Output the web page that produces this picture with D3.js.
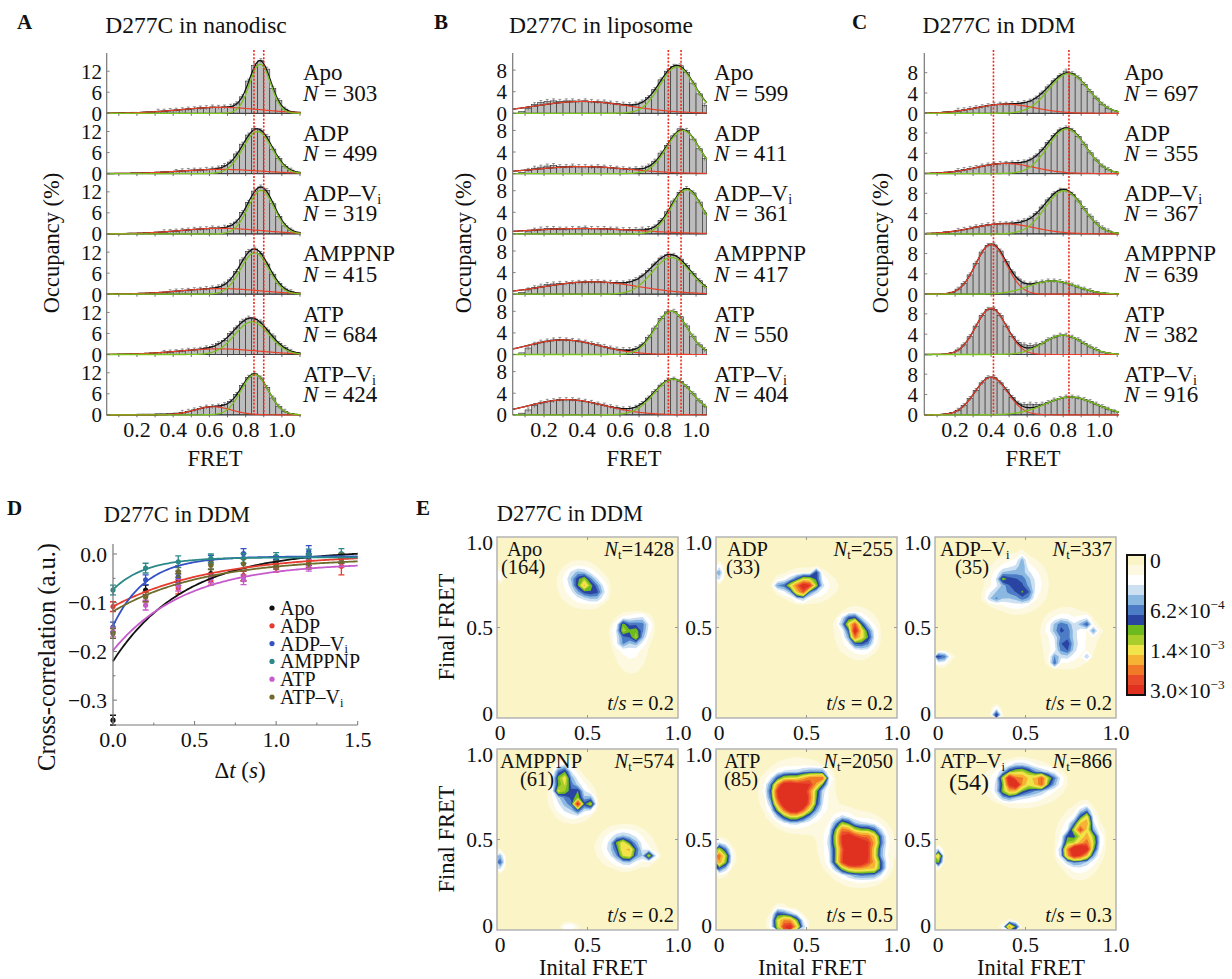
<!DOCTYPE html>
<html>
<head>
<meta charset="utf-8">
<script src="https://cdn.jsdelivr.net/npm/d3@7"></script>
<style>
  body { margin: 0; background: #fff; }
  svg { display: block; }
  svg text { white-space: pre; }
</style>
</head>
<body>
<script>
// ---------- data ----------
const conditions = ["Apo", "ADP", "ADP–Vi", "AMPPNP", "ATP", "ATP–Vi"];
const binWidth = 1 / 30;
const fretTicks = [0.2, 0.4, 0.6, 0.8, 1.0];

// A - nanodisc
const nanodiscN = [303, 499, 319, 415, 684, 424];
const nanodiscBars = [
  [0,0,0.1,0.2,0.1,0.3,0.2,0.4,0.4,0.6,0.6,0.8,0.9,1.0,1.2,1.3,1.5,1.6,1.8,1.7,1.8,2.0,2.7,4.7,9.2,13.6,15.0,12.6,7.1,3.6,1.2,0.5,0.2],
  [0,0,0,0.1,0.1,0.2,0.2,0.3,0.3,0.4,0.5,0.5,0.6,0.8,0.9,1.0,1.0,1.2,1.3,1.6,2.3,3.3,5.6,8.4,11.0,12.8,12.2,10.6,7.0,4.3,2.0,1.0,0.4],
  [0,0,0.1,0.1,0.2,0.2,0.2,0.3,0.4,0.5,0.6,0.7,0.8,1.0,1.1,1.3,1.4,1.5,1.7,1.6,1.9,2.4,3.4,6.1,9.0,12.2,13.4,12.4,8.6,5.0,2.3,1.1,0.5],
  [0,0,0.1,0.1,0.1,0.2,0.3,0.3,0.4,0.5,0.5,0.7,0.9,1.0,1.1,1.3,1.4,1.6,1.8,2.1,2.9,4.1,6.5,9.8,12.2,12.9,11.6,8.6,5.7,3.0,1.5,0.7,0.3],
  [0,0,0.1,0.1,0.2,0.2,0.3,0.3,0.4,0.5,0.6,0.7,0.8,1.0,1.2,1.3,1.5,1.9,2.3,3.1,4.0,6.0,7.6,9.5,10.4,10.1,9.3,7.0,5.3,3.1,2.0,0.9,0.5],
  [0,0,0,0,0,0.1,0.2,0.2,0.2,0.3,0.3,0.4,0.5,0.7,1.0,1.4,1.8,2.2,2.3,2.5,2.9,3.8,5.8,8.4,10.7,11.7,10.5,7.8,4.8,2.4,1.0,0.4,0.1]
];
// gaussian fits [amplitude, centre, sigma]
const nanodiscLow = [[1.7,0.66,0.22],[1.2,0.66,0.22],[1.6,0.66,0.22],[1.6,0.66,0.22],[1.6,0.65,0.22],[2.3,0.62,0.1]];
const nanodiscHigh = [[14,0.88,0.058],[12,0.865,0.08],[12.4,0.885,0.072],[11.8,0.85,0.078],[9.3,0.835,0.095],[11.5,0.85,0.075]];
const nanodiscMarks = [0.846, 0.90];

// B - liposome
const liposomeN = [599, 411, 361, 417, 550, 404];
const liposomeBars = [
  [0,0,0.3,0.9,1.6,2.0,2.2,2.3,2.2,2.3,2.3,2.2,2.3,2.2,2.1,2.1,1.9,1.8,1.7,1.6,1.7,2.1,2.9,4.4,6.2,7.8,8.7,8.8,7.6,5.6,3.6,1.5],
  [0,0,0.2,0.6,1.0,1.2,1.4,1.5,1.3,1.3,1.4,1.3,1.3,1.2,1.3,1.2,1.1,1.0,0.9,0.8,0.9,1.0,1.4,2.3,3.8,5.2,7.0,8.3,8.0,6.4,4.6,2.8],
  [0,0,0.1,0.4,0.7,0.9,1.0,1.0,0.9,0.9,1.0,1.0,1.1,1.0,1.0,1.0,0.9,0.9,0.8,0.8,0.8,0.9,1.0,1.3,2.5,4.1,6.1,7.7,8.4,7.6,5.9,3.9],
  [0,0,0.3,0.8,1.2,1.5,1.8,1.9,2.0,2.0,2.1,2.2,2.2,2.3,2.3,2.2,2.2,2.1,2.1,2.3,2.7,3.4,4.4,5.6,6.7,7.3,7.2,6.5,5.3,3.8,2.5,1.4],
  [0,0,0.3,1.2,1.9,2.3,2.5,2.7,2.8,2.7,2.6,2.5,2.3,2.0,1.8,1.5,1.2,1.0,0.9,0.9,1.1,1.8,3.2,4.9,6.7,7.9,8.0,7.0,5.3,3.4,1.8,0.9],
  [0,0,0.3,0.9,1.7,2.2,2.5,2.6,2.8,2.8,2.8,2.7,2.5,2.3,2.0,1.8,1.5,1.3,1.1,1.2,1.4,2.1,3.1,4.3,5.5,6.4,6.6,6.2,5.2,3.9,2.6,1.6]
];
const liposomeLow = [[2.2,0.4,0.25],[1.3,0.4,0.25],[1.0,0.4,0.3],[2.3,0.45,0.25],[2.7,0.3,0.19],[2.8,0.32,0.2]];
const liposomeHigh = [[8.6,0.9,0.09],[8.0,0.93,0.085],[8.2,0.95,0.08],[6.8,0.87,0.1],[8.0,0.87,0.085],[6.6,0.88,0.1]];
const liposomeMarks = [0.854, 0.921];

// C - DDM
const ddmN = [697, 355, 367, 639, 382, 916];
const ddmBars = [
  [0,0,0.1,0.2,0.3,0.4,0.6,0.7,0.9,1.1,1.3,1.5,1.7,1.8,1.8,1.9,1.9,2.1,2.4,3.0,4.0,5.2,6.4,7.4,8.3,7.8,7.0,5.7,4.3,3.0,1.8,1.0,0.5],
  [0,0,0.1,0.2,0.3,0.4,0.6,0.8,1.0,1.2,1.5,1.7,1.9,2.0,2.0,2.1,2.2,2.3,2.7,3.5,4.7,6.1,7.5,8.6,9.0,8.5,7.3,5.8,4.1,2.7,1.5,0.8,0.4],
  [0,0,0.1,0.2,0.4,0.5,0.7,0.9,1.1,1.4,1.6,1.8,1.9,2.0,2.0,2.1,2.3,2.6,3.1,4.0,5.3,6.7,7.9,8.6,8.5,7.8,6.5,5.0,3.5,2.2,1.2,0.6,0.3],
  [0,0,0,0,0.1,0.4,1.0,2.1,3.8,6.1,8.3,9.6,9.7,8.5,6.4,4.4,3.0,2.2,2.0,2.2,2.4,2.6,2.6,2.5,2.2,1.8,1.4,1.0,0.7,0.45,0.3,0.15,0.1],
  [0,0,0,0,0.1,0.35,0.9,1.9,3.5,5.6,7.7,8.9,8.9,7.7,5.6,3.6,2.4,1.9,1.8,1.9,2.2,2.9,3.4,3.8,3.8,3.4,2.9,2.2,1.5,1.0,0.5,0.3,0.1],
  [0,0,0,0,0.2,0.4,0.9,1.8,3.2,4.8,6.3,7.3,7.3,6.3,5.0,3.4,2.3,2.0,2.1,2.0,2.1,2.4,2.9,3.2,3.5,3.5,3.3,3.0,2.6,2.1,1.6,1.1,0.6]
];
const ddmLow = [[1.8,0.48,0.16],[2.0,0.48,0.16],[2.0,0.47,0.17],[9.8,0.40,0.085],[9.1,0.40,0.085],[7.4,0.40,0.09]];
const ddmHigh = [[7.8,0.83,0.11],[8.8,0.82,0.105],[8.5,0.805,0.105],[2.6,0.74,0.13],[3.8,0.80,0.11],[3.5,0.84,0.14]];
const ddmMarks = [0.413, 0.832];

// D - cross-correlation
const ccTimes = [0, 0.2, 0.4, 0.6, 0.8, 1.0, 1.2, 1.4];
const ccApo    = [-0.341, -0.074, -0.053, -0.040, -0.045, -0.019, -0.012, -0.016];
const ccADP    = [-0.108, -0.088, -0.070, -0.055, -0.045, -0.029, -0.016, -0.025];
const ccADPVi  = [-0.150, -0.053, -0.047, -0.012, 0.001, -0.012, 0.005, -0.009];
const ccAMPPNP = [-0.074, -0.029, -0.016, -0.009, -0.009, -0.005, -0.002, 0.001];
const ccATP    = [-0.160, -0.105, -0.064, -0.050, -0.053, -0.023, -0.023, -0.016];
const ccATPVi  = [-0.163, -0.088, -0.036, -0.023, -0.020, -0.023, -0.019, -0.009];
const ccErr    = [0.010, 0.010, 0.012, 0.009, 0.010, 0.008, 0.012, 0.010];
// exponential fits [a, tau, c] : a*exp(-t/tau)+c
const ccFits = [[-0.228,0.44,0.008],[-0.108,0.6,0],[-0.143,0.2,-0.005],[-0.066,0.2,-0.007],[-0.18,0.44,-0.018],[-0.11,0.55,-0.008]];
const ccColors = ["#111111", "#e63b2e", "#3552c4", "#2b8a88", "#c65ccc", "#6e6b2c"];

// E - transition density maps, hot spots [initial, final, peak (x10^-3), sx, sy]
const mapNames = ["Apo", "ADP", "ADP–Vi", "AMPPNP", "ATP", "ATP–Vi"];
const mapCounts = [164, 33, 35, 61, 85, 54];
const mapNt = [1428, 255, 337, 574, 2050, 866];
const mapTime = [0.2, 0.2, 0.2, 0.2, 0.5, 0.3];
const spotsApo = [[0.48,0.74,1.05,0.022,0.022],[0.50,0.72,0.7,0.05,0.04],[0.45,0.78,0.45,0.04,0.03],[0.55,0.69,0.45,0.03,0.03],
  [0.46,0.74,0.2,0.08,0.08],[0.70,0.50,1.05,0.018,0.022],[0.74,0.48,0.7,0.05,0.04],[0.77,0.45,0.75,0.02,0.025],
  [0.80,0.52,0.45,0.03,0.03],[0.69,0.42,0.45,0.02,0.02],[0.74,0.40,0.2,0.06,0.1],[0.0,0.79,0.45,0.015,0.03]];
const spotsADP = [[0.50,0.74,3.2,0.035,0.02],[0.47,0.69,2.6,0.02,0.015],[0.43,0.73,1.3,0.04,0.02],[0.56,0.79,1.8,0.012,0.012],
  [0.35,0.74,0.8,0.012,0.012],[0.50,0.73,0.4,0.09,0.05],[0.77,0.48,3.1,0.02,0.035],[0.74,0.53,1.3,0.03,0.02],
  [0.82,0.45,1.0,0.03,0.04],[0.78,0.47,0.3,0.07,0.08],[0.0,0.80,1.2,0.015,0.03]];
const spotsADPVi = [[0.45,0.73,0.7,0.06,0.06],[0.38,0.78,1.2,0.02,0.012],[0.50,0.68,1.2,0.015,0.015],[0.47,0.86,1.0,0.01,0.025],
  [0.33,0.67,0.6,0.03,0.02],[0.70,0.50,0.7,0.04,0.03],[0.72,0.40,0.8,0.03,0.04],[0.83,0.53,1.4,0.02,0.012],[0.88,0.47,1.2,0.015,0.01],
  [0.66,0.32,1.8,0.015,0.012],[0.83,0.35,1.0,0.01,0.01],[0.03,0.33,1.2,0.03,0.015],[0.34,0.0,1.2,0.015,0.03],
  [0.45,0.75,0.25,0.1,0.09],[0.74,0.44,0.25,0.09,0.1]];
const spotsAMPPNP = [[0.36,0.84,1.3,0.02,0.04],[0.35,0.77,1.2,0.015,0.015],[0.45,0.69,3.1,0.015,0.015],[0.44,0.75,1.5,0.015,0.012],
  [0.51,0.70,1.4,0.015,0.02],[0.42,0.72,0.7,0.06,0.06],[0.38,0.82,0.6,0.04,0.05],[0.68,0.49,2.0,0.012,0.012],
  [0.72,0.43,1.5,0.03,0.03],[0.70,0.46,0.7,0.06,0.05],[0.84,0.41,1.3,0.02,0.015],[0.86,0.32,0.8,0.008,0.008],
  [0.0,0.38,2.5,0.012,0.03],[0.40,0.0,1.5,0.03,0.01],[0.72,0.45,0.12,0.12,0.08]];
const spotsATP = [[0.40,0.78,3.5,0.05,0.04],[0.47,0.72,3.5,0.05,0.05],[0.42,0.68,2.5,0.04,0.04],[0.52,0.82,2.5,0.04,0.03],
  [0.58,0.84,2.2,0.02,0.02],[0.36,0.73,2.0,0.03,0.05],[0.45,0.75,0.25,0.12,0.12],
  [0.74,0.48,3.5,0.05,0.05],[0.80,0.40,3.5,0.05,0.05],[0.72,0.38,2.5,0.04,0.03],[0.85,0.50,2.0,0.04,0.04],
  [0.70,0.55,1.5,0.03,0.04],[0.88,0.35,1.2,0.03,0.03],[0.78,0.45,0.25,0.12,0.12],
  [0.02,0.40,2.6,0.03,0.04],[0.40,0.02,3.5,0.04,0.035],[0.35,0.07,1.0,0.02,0.03]];
const spotsATPVi = [[0.40,0.83,3.2,0.015,0.02],[0.44,0.80,2.5,0.02,0.02],[0.47,0.84,1.5,0.05,0.04],[0.58,0.82,2.6,0.02,0.02],
  [0.62,0.83,1.0,0.04,0.025],[0.40,0.76,1.2,0.03,0.02],[0.48,0.81,0.8,0.09,0.05],
  [0.76,0.43,3.5,0.03,0.025],[0.82,0.44,3.2,0.03,0.025],[0.79,0.56,2.8,0.015,0.02],[0.83,0.60,2.0,0.02,0.04],
  [0.85,0.50,1.5,0.03,0.03],[0.74,0.50,1.3,0.015,0.015],[0.80,0.48,0.8,0.06,0.09],
  [0.01,0.40,2.2,0.015,0.025],[0.42,0.0,3.5,0.02,0.02],[0.5,0.8,0.12,0.14,0.08]];
const mapSpots = [spotsApo, spotsADP, spotsADPVi, spotsAMPPNP, spotsATP, spotsATPVi];
// colour levels (lower bounds, x10^-3)
const mapLevels = [0, 0.06, 0.15, 0.3, 0.45, 0.62, 0.8, 1.0, 1.2, 1.4, 1.8, 2.2, 2.6, 3.0];
const mapColors = ["#fbf4c6","#fdf9e0","#ffffff","#cde0f2","#8ab8e1","#4d7cc7","#2a45a1","#6dba1f","#a9cd2a","#f1e34a","#f5b233","#f07a27","#e94b2a","#e0301f"];
const colorbarLabels = [0, 0.62, 1.4, 3.0];

// ---------- drawing ----------
const W = 1232, H = 979;
const svg = d3.select("body").append("svg")
  .attr("width", W).attr("height", H)
  .style("font-family", "'Liberation Serif', 'Times New Roman', serif")
  .attr("fill", "#111");

const gauss = (p, x) => p[0] * Math.exp(-((x - p[1]) ** 2) / (2 * p[2] * p[2]));

// writes a row of text pieces (italic / subscript / superscript) as separate text nodes
function runs(parent, x, y, pieces, size, anchor) {
  const g = parent.append("g");
  let cx = 0;
  pieces.forEach(p => {
    const fs = p.sub || p.sup ? size * 0.62 : size;
    const dy = p.sub ? size * 0.14 : p.sup ? -size * 0.38 : 0;
    const t = g.append("text").attr("x", cx).attr("y", dy).attr("font-size", fs).text(p.t);
    if (p.italic) t.attr("font-style", "italic");
    cx += t.node().getComputedTextLength();
  });
  const shift = anchor === "end" ? -cx : anchor === "middle" ? -cx / 2 : 0;
  g.attr("transform", `translate(${x + shift},${y})`);
  return g;
}
function namePieces(name) {
  return name.endsWith("Vi") ? [{ t: name.slice(0, -1) }, { t: "i", sub: true }] : [{ t: name }];
}

const ROW0 = 113.3, ROWH = 60.3;

const histPanels = [
  { letter: "A", letterX: 17, title: "D277C in nanodisc", titleX: 196, left: 106.7, right: 300.7, domain: [0.033, 1.104],
    yMax: 17.2, yTicks: [0, 6, 12], tickRight: 102, labelX: 303, fretX: 215, yLabX: 51,
    bars: nanodiscBars, low: nanodiscLow, high: nanodiscHigh, n: nanodiscN, marks: nanodiscMarks },
  { letter: "B", letterX: 434, title: "D277C in liposome", titleX: 601, left: 512.7, right: 706.7, domain: [0.035, 1.056],
    yMax: 11.17, yTicks: [0, 4, 8], tickRight: 507, labelX: 714, fretX: 634, yLabX: 463,
    bars: liposomeBars, low: liposomeLow, high: liposomeHigh, n: liposomeN, marks: liposomeMarks },
  { letter: "C", letterX: 852, title: "D277C in DDM", titleX: 999, left: 924.3, right: 1119, domain: [0.029, 1.11],
    yMax: 11.87, yTicks: [0, 4, 8], tickRight: 918, labelX: 1124, fretX: 1033, yLabX: 880,
    bars: ddmBars, low: ddmLow, high: ddmHigh, n: ddmN, marks: ddmMarks }
];

function histPanel(p) {
  const x = d3.scaleLinear().domain(p.domain).range([p.left, p.right]);
  const g = svg.append("g");
  g.append("text").attr("x", p.letterX).attr("y", 29).attr("font-weight", "bold").attr("font-size", 21).text(p.letter);
  g.append("text").attr("x", p.titleX).attr("y", 33).attr("text-anchor", "middle").attr("font-size", 23.5).text(p.title);

  const xs = d3.range(p.domain[0], p.domain[1], 0.004).concat([p.domain[1]]);
  const minor = d3.range(0.1, p.domain[1], 0.1);

  conditions.forEach((name, i) => {
    const base = ROW0 + i * ROWH;
    const y = d3.scaleLinear().domain([0, p.yMax]).range([base, base - ROWH]);
    const bins = p.bars[i].map((v, k) => ({
      x0: Math.max(k * binWidth, p.domain[0]),
      x1: Math.min((k + 1) * binWidth, p.domain[1]), v
    })).filter(d => d.v > 0 && d.x1 > d.x0);

    g.append("g").selectAll("rect").data(bins).join("rect")
      .attr("x", d => x(d.x0)).attr("width", d => x(d.x1) - x(d.x0))
      .attr("y", d => y(d.v)).attr("height", d => base - y(d.v))
      .attr("fill", "#bdbdbd").attr("stroke", "#2a2a2a").attr("stroke-width", 0.6);

    // small error marks on the bars
    g.append("g").selectAll("path").data(bins.filter(d => d.v > 0.5)).join("path")
      .attr("d", d => {
        const cx = x((d.x0 + d.x1) / 2), yy = y(d.v);
        return `M${cx},${yy - 2}V${yy + 2}M${cx - 1.5},${yy - 2}H${cx + 1.5}`;
      })
      .attr("stroke", "#555").attr("stroke-width", 0.6).attr("fill", "none");

    // baseline with minor ticks
    g.append("line").attr("x1", p.left).attr("x2", p.right).attr("y1", base).attr("y2", base)
      .attr("stroke", "#444").attr("stroke-width", 1.2);
    g.append("g").selectAll("line").data(minor).join("line")
      .attr("x1", d => x(d)).attr("x2", d => x(d)).attr("y1", base).attr("y2", base + 2.5)
      .attr("stroke", "#444").attr("stroke-width", 0.8);

    const line = f => d3.line().x(t => x(t)).y(t => y(f(t)))(xs);
    g.append("path").attr("d", line(t => gauss(p.low[i], t) + gauss(p.high[i], t)))
      .attr("fill", "none").attr("stroke", "#111").attr("stroke-width", 1.3);
    g.append("path").attr("d", line(t => gauss(p.low[i], t)))
      .attr("fill", "none").attr("stroke", "#e8402a").attr("stroke-width", 1.2);
    g.append("path").attr("d", line(t => gauss(p.high[i], t)))
      .attr("fill", "none").attr("stroke", "#7cc21e").attr("stroke-width", 1.3);

    // y ticks
    g.append("g").selectAll("text").data(p.yTicks).join("text")
      .attr("x", p.tickRight).attr("y", d => y(d)).attr("dy", "0.36em")
      .attr("text-anchor", "end").attr("font-size", 21).text(d => d);
    g.append("g").selectAll("line").data(p.yTicks).join("line")
      .attr("x1", p.left).attr("x2", p.left + 3).attr("y1", d => y(d)).attr("y2", d => y(d))
      .attr("stroke", "#666").attr("stroke-width", 0.8);

    // condition label
    runs(g, p.labelX, base - 33, namePieces(name), 23);
    runs(g, p.labelX, base - 12.5, [{ t: "N", italic: true }, { t: " = " + p.n[i] }], 23);
  });

  // y axis line
  g.append("line").attr("x1", p.left).attr("x2", p.left)
    .attr("y1", ROW0 - ROWH).attr("y2", ROW0 + 5 * ROWH)
    .attr("stroke", "#777").attr("stroke-width", 1.2);

  // reference lines
  g.append("g").selectAll("line").data(p.marks).join("line")
    .attr("x1", d => x(d)).attr("x2", d => x(d))
    .attr("y1", ROW0 - ROWH - 3).attr("y2", ROW0 + 5 * ROWH)
    .attr("stroke", "#ee2b1e").attr("stroke-width", 1.6).attr("stroke-dasharray", "2,1.6");

  // x tick labels
  g.append("g").selectAll("text").data(fretTicks).join("text")
    .attr("x", d => x(d)).attr("y", 437).attr("text-anchor", "middle").attr("font-size", 22)
    .text(d3.format(".1f"));
  g.append("text").attr("x", p.fretX).attr("y", 466).attr("text-anchor", "middle").attr("font-size", 22.5).text("FRET");
  g.append("text").attr("transform", `translate(${p.yLabX},243) rotate(-90)`)
    .attr("text-anchor", "middle").attr("dy", "0.35em").attr("font-size", 22.5).text("Occupancy (%)");
}
histPanels.forEach(histPanel);

// ---------- D ----------
(function () {
  const g = svg.append("g");
  const x = d3.scaleLinear().domain([0, 1.5]).range([113, 357.7]);
  const y = d3.scaleLinear().domain([-0.351, 0.0205]).range([725, 544]);
  g.append("text").attr("x", 7).attr("y", 515).attr("font-weight", "bold").attr("font-size", 21).text("D");
  g.append("text").attr("x", 177).attr("y", 522).attr("text-anchor", "middle").attr("font-size", 22.5).text("D277C in DDM");

  const series = [ccApo, ccADP, ccADPVi, ccAMPPNP, ccATP, ccATPVi];
  const ts = d3.range(0, 1.5001, 0.01);
  g.append("clipPath").attr("id", "clipD").append("rect")
    .attr("x", 108).attr("y", 540).attr("width", 255).attr("height", 186);
  const plot = g.append("g").attr("clip-path", "url(#clipD)");

  series.forEach((vals, s) => {
    const col = ccColors[s];
    const pts = vals.map((v, k) => ({ t: ccTimes[k], v, e: ccErr[k] * (s === 1 && k === 7 ? 1.8 : 1) }));
    plot.append("g").selectAll("path").data(pts).join("path")
      .attr("d", d => {
        const cx = x(d.t), a = y(d.v + d.e), b = y(d.v - d.e);
        return `M${cx},${a}V${b}M${cx - 3},${a}H${cx + 3}M${cx - 3},${b}H${cx + 3}`;
      })
      .attr("stroke", col).attr("stroke-width", 1.3).attr("fill", "none");
    plot.append("g").selectAll("circle").data(pts).join("circle")
      .attr("cx", d => x(d.t)).attr("cy", d => y(d.v)).attr("r", 2.6).attr("fill", col);
  });
  series.forEach((vals, s) => {
    const f = ccFits[s];
    plot.append("path")
      .attr("d", d3.line().x(t => x(t)).y(t => y(f[0] * Math.exp(-t / f[1]) + f[2]))(ts))
      .attr("fill", "none").attr("stroke", ccColors[s]).attr("stroke-width", 1.8);
  });

  // axes
  g.append("line").attr("x1", 113).attr("x2", 113).attr("y1", 544).attr("y2", 725).attr("stroke", "#777").attr("stroke-width", 1.2);
  g.append("line").attr("x1", 113).attr("x2", 357.7).attr("y1", 725).attr("y2", 725).attr("stroke", "#777").attr("stroke-width", 1.2);
  const yt = [0, -0.1, -0.2, -0.3];
  g.append("g").selectAll("text").data(yt).join("text")
    .attr("x", 107).attr("y", d => y(d)).attr("dy", "0.36em").attr("text-anchor", "end").attr("font-size", 21.5)
    .text(d => d === 0 ? "0.0" : "−" + d3.format(".1f")(-d));
  g.append("g").selectAll("line").data(d3.range(-0.35, 0.001, 0.05)).join("line")
    .attr("x1", 113).attr("x2", (d, i) => 113 + (i % 2 ? 4 : 2.5)).attr("y1", d => y(d)).attr("y2", d => y(d))
    .attr("stroke", "#777");
  const xt = [0, 0.5, 1.0, 1.5];
  g.append("g").selectAll("text").data(xt).join("text")
    .attr("x", d => x(d)).attr("y", 747).attr("text-anchor", "middle").attr("font-size", 22).text(d3.format(".1f"));
  g.append("g").selectAll("line").data(d3.range(0, 1.5001, 0.25)).join("line")
    .attr("x1", d => x(d)).attr("x2", d => x(d)).attr("y1", 725).attr("y2", (d, i) => 725 - (i % 2 ? 2.5 : 4))
    .attr("stroke", "#777");

  runs(g, 240, 778, [{ t: "Δ" }, { t: "t", italic: true }, { t: " (" }, { t: "s", italic: true }, { t: ")" }], 23, "middle");
  g.append("text").attr("transform", "translate(46,657) rotate(-90)").attr("text-anchor", "middle")
    .attr("dy", "0.35em").attr("font-size", 24.5).text("Cross-correlation (a.u.)");

  // legend
  conditions.forEach((name, s) => {
    const ly = 608 + s * 17.8;
    g.append("circle").attr("cx", 272).attr("cy", ly).attr("r", 2.6).attr("fill", ccColors[s]);
    runs(g, 280, ly + 7, namePieces(name), 20);
  });
})();

// ---------- E ----------
(function () {
  const g = svg.append("g");
  g.append("text").attr("x", 416).attr("y", 515).attr("font-weight", "bold").attr("font-size", 21).text("E");
  g.append("text").attr("x", 570).attr("y", 521).attr("text-anchor", "middle").attr("font-size", 22.5).text("D277C in DDM");

  const size = 181;
  const cols = [497, 716, 935], rows = [537, 749];
  const nameDx = [10, 11, 5, 3, 8, 5], countDx = [4, 10, 20, 23, 8, 14];
  const n = 28;
  const contours = d3.contours().size([n, n]).thresholds(mapLevels.slice(1));
  const color = d3.scaleOrdinal().domain(mapLevels).range(mapColors);

  mapNames.forEach((name, m) => {
    const left = cols[m % 3], top = rows[Math.floor(m / 3)];
    const x = d3.scaleLinear().domain([0, 1]).range([left, left + size]);
    const y = d3.scaleLinear().domain([0, 1]).range([top + size, top]);
    const values = new Array(n * n);
    for (let j = 0; j < n; j++) {
      for (let i = 0; i < n; i++) {
        const xf = (i + 0.5) / n, yf = 1 - (j + 0.5) / n;
        values[j * n + i] = d3.sum(mapSpots[m], s =>
          s[2] * Math.exp(-((xf - s[0]) ** 2) / (2 * s[3] * s[3]) - ((yf - s[1]) ** 2) / (2 * s[4] * s[4])));
      }
    }
    const proj = d3.geoTransform({
      point(px, py) { this.stream.point(left + px * size / n, top + py * size / n); }
    });
    const path = d3.geoPath(proj);
    const cid = "clipE" + m;
    g.append("clipPath").attr("id", cid).append("rect")
      .attr("x", left).attr("y", top).attr("width", size).attr("height", size);
    const mg = g.append("g").attr("clip-path", `url(#${cid})`);
    mg.append("rect").attr("x", left).attr("y", top).attr("width", size).attr("height", size).attr("fill", mapColors[0]);
    mg.selectAll("path").data(contours(values)).join("path")
      .attr("d", path).attr("fill", d => color(d.value));
    g.append("rect").attr("x", left).attr("y", top).attr("width", size).attr("height", size)
      .attr("fill", "none").attr("stroke", "#b4b4b4").attr("stroke-width", 1.5);
    g.append("path").attr("d",
      `M${x(0.5)},${top}v3M${x(0.5)},${top + size}v-3M${left},${y(0.5)}h3M${left + size},${y(0.5)}h-3`)
      .attr("stroke", "#999").attr("stroke-width", 1);

    // tick labels
    const tl = (tx, ty, txt, anchor) => g.append("text").attr("x", tx).attr("y", ty).attr("dy", "0.36em")
      .attr("text-anchor", anchor).attr("font-size", 21.5).text(txt);
    tl(left - 4, top + 5, "1.0", "end");
    tl(left - 4, y(0.5), "0.5", "end");
    tl(left - 4, top + size - 5, "0", "end");
    tl(left + 3, top + size + 14, "0", "middle");
    tl(x(0.5), top + size + 14, "0.5", "middle");
    tl(left + size, top + size + 14, "1.0", "middle");

    // inner texts
    runs(g, left + nameDx[m], top + 19, namePieces(name), 20.5);
    g.append("text").attr("x", left + countDx[m]).attr("y", top + (m === 5 ? 41 : 37))
      .attr("font-size", m === 5 ? 24 : 20.5).text(`(${mapCounts[m]})`);
    runs(g, left + size - 4, top + 19,
      [{ t: "N", italic: true }, { t: "t", sub: true }, { t: "=" + mapNt[m] }], 20.5, "end");
    runs(g, left + size - 4, top + size - 8,
      [{ t: "t", italic: true }, { t: "/" }, { t: "s", italic: true }, { t: " = " + mapTime[m] }], 20.5, "end");
  });

  // axis titles
  rows.forEach(top => {
    g.append("text").attr("transform", `translate(446,${top + 90}) rotate(-90)`).attr("text-anchor", "middle")
      .attr("dy", "0.35em").attr("font-size", 22.5).text("Final FRET");
  });
  cols.forEach(left => {
    g.append("text").attr("x", left + 96).attr("y", 975).attr("text-anchor", "middle").attr("font-size", 22.5).text("Inital FRET");
  });

  // colour bar
  const cb = d3.scaleBand().domain(mapLevels).range([555, 695]).paddingInner(0);
  g.append("g").selectAll("rect").data(mapLevels).join("rect")
    .attr("x", 1127).attr("y", d => cb(d)).attr("width", 18).attr("height", cb.bandwidth() + 0.3)
    .attr("fill", d => color(d));
  g.append("rect").attr("x", 1127).attr("y", 555).attr("width", 18).attr("height", 140)
    .attr("fill", "none").attr("stroke", "#111").attr("stroke-width", 2);
  colorbarLabels.forEach(v => {
    const cy = cb(v) + cb.bandwidth() / 2 + 7.5;
    if (v === 0) { runs(g, 1150, cy, [{ t: "0" }], 21.5); return; }
    const exp = v < 1 ? 4 : 3;
    const mant = v < 1 ? v * 10 : v;
    runs(g, 1150, cy, [{ t: d3.format(".1f")(mant) + "×10" }, { t: "−" + exp, sup: true }], 21.5);
  });
})();
</script>
</body>
</html>
